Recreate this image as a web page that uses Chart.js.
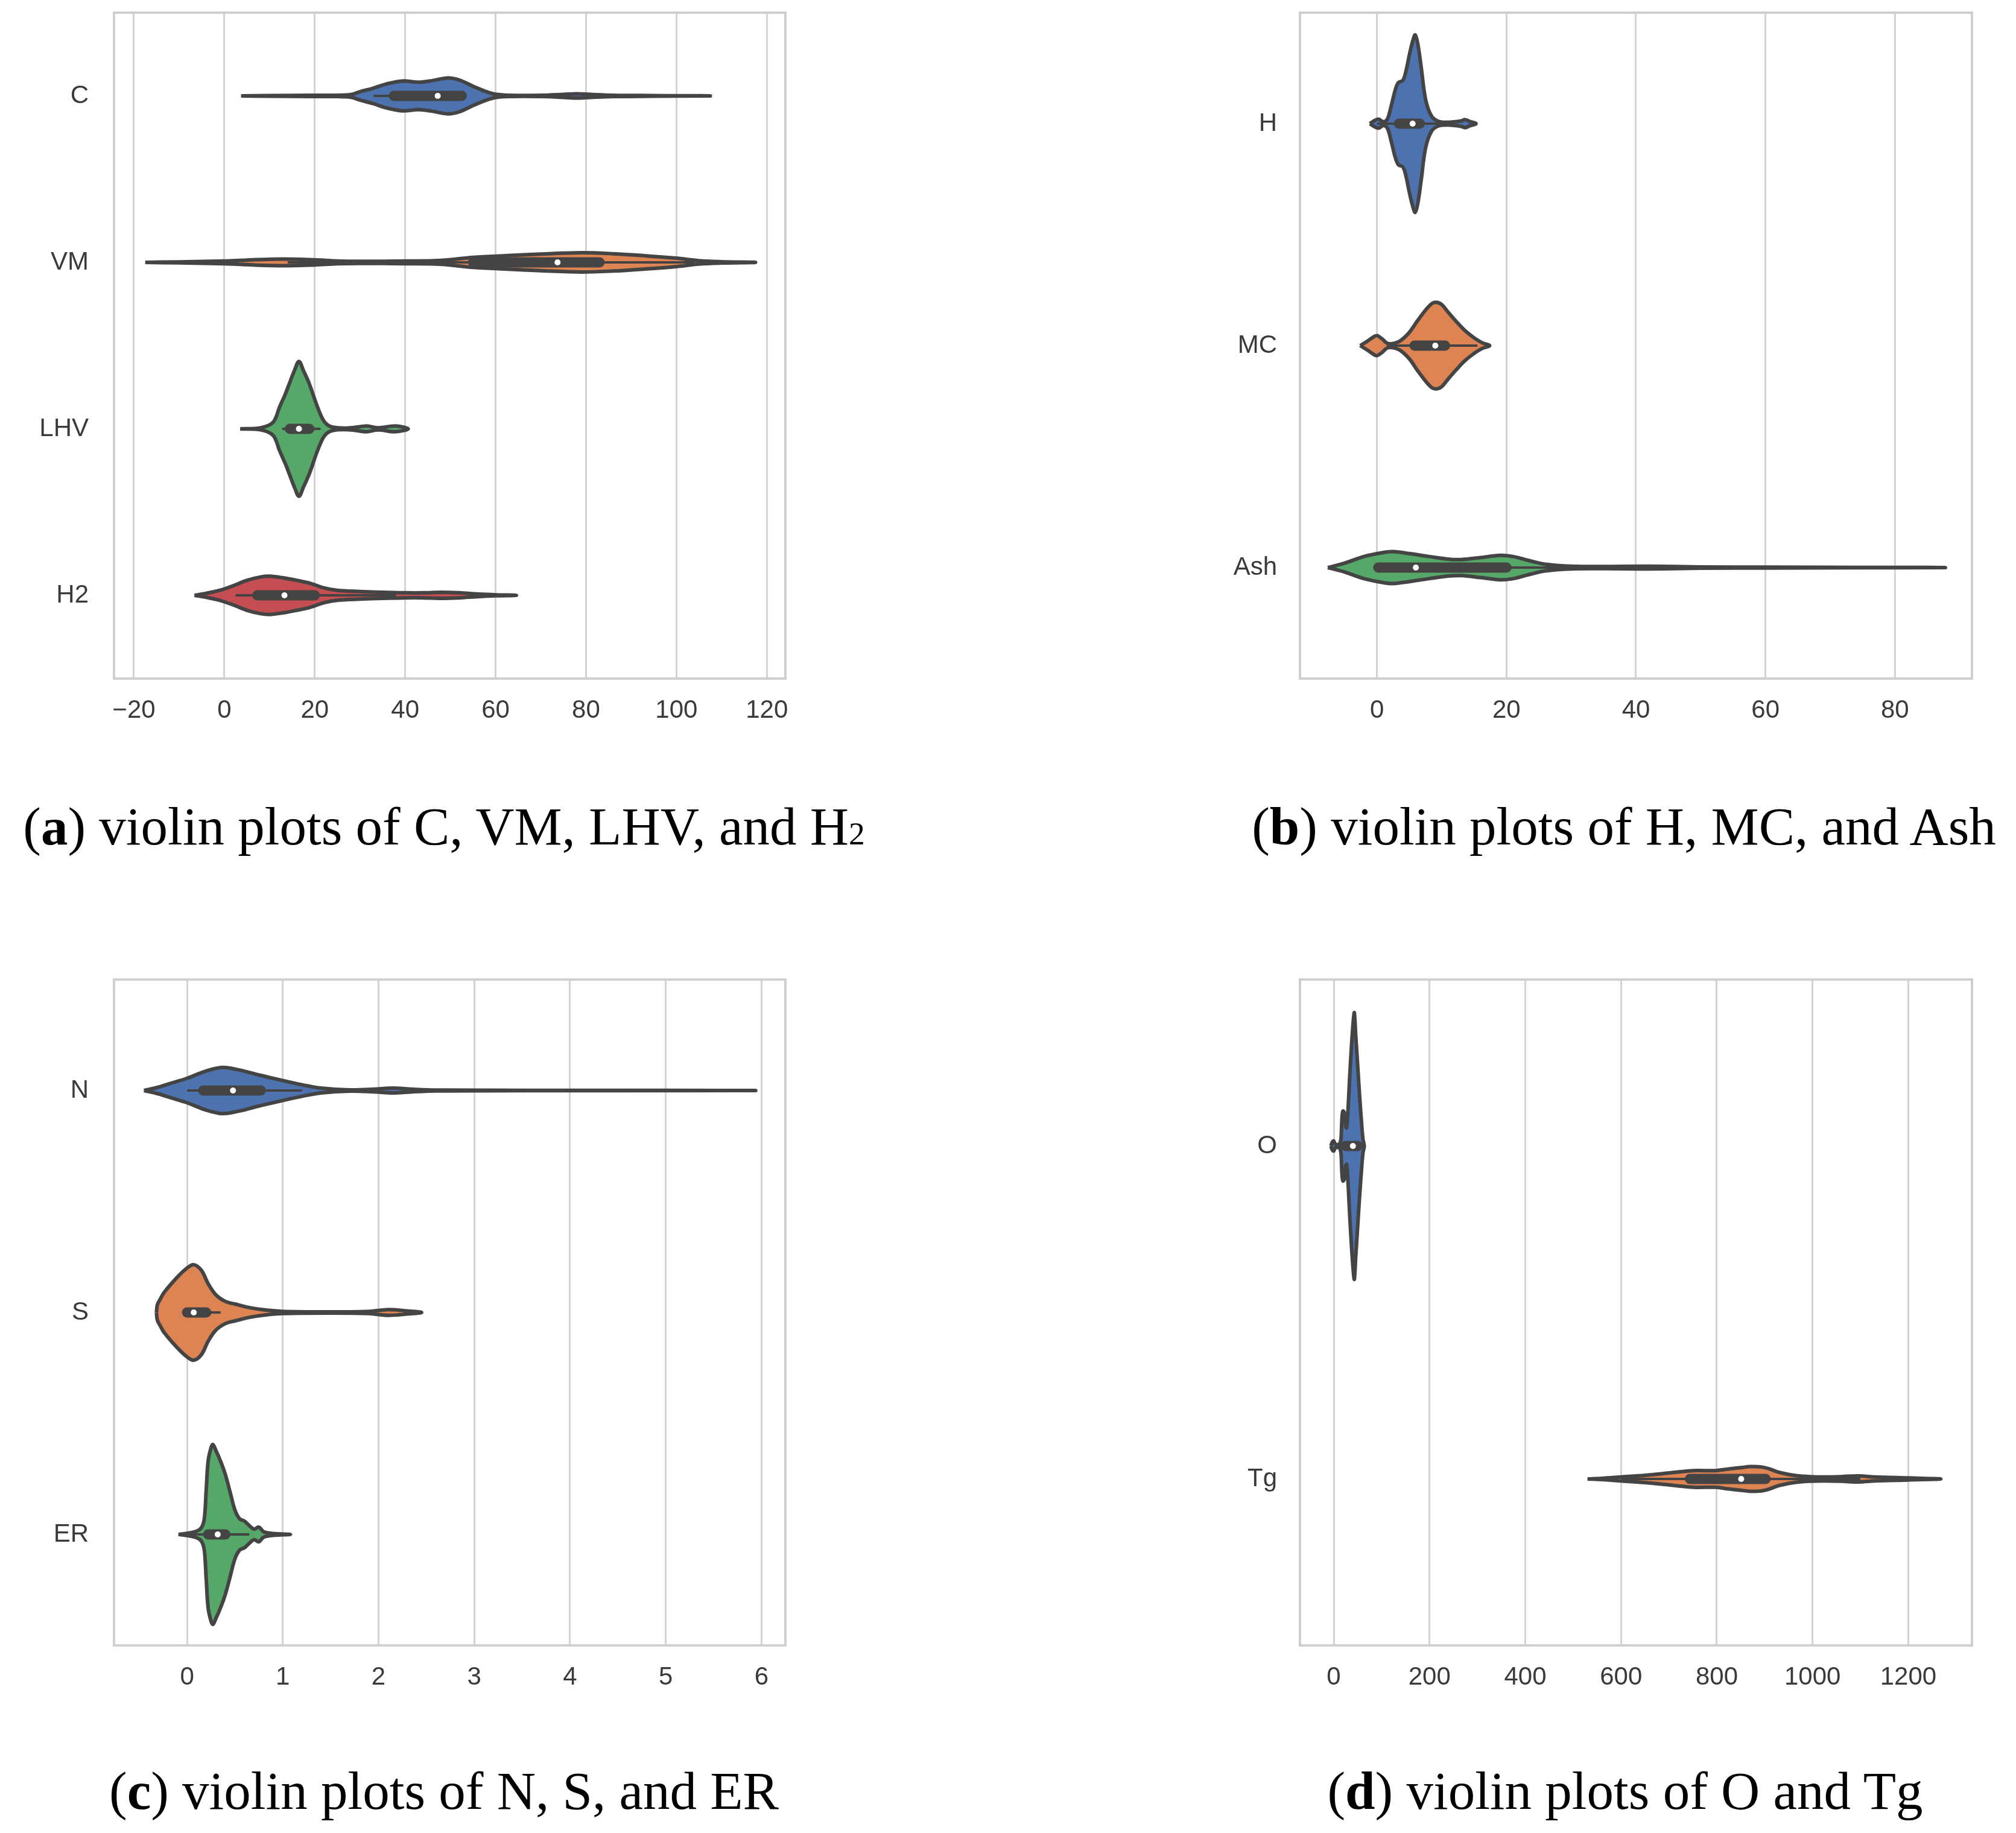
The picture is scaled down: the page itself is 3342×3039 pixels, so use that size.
<!DOCTYPE html>
<html>
<head>
<meta charset="utf-8">
<script src="https://cdn.jsdelivr.net/npm/chart.js@4.4.1/dist/chart.umd.min.js"></script>
<style>
    html, body { margin: 0; padding: 0; background: #fff; }
    body { width: 3342px; height: 3039px; position: relative; overflow: hidden; }
    canvas { position: absolute; }
    .cap {
        position: absolute;
        white-space: nowrap;
        font-family: "Liberation Serif", "DejaVu Serif", serif;
        font-size: 89px;
        color: #000;
        line-height: 1;
        transform: translate(-50%, -50%);
    }
    .cap .sub { font-size: 0.6em; }
</style>
</head>
<body>
<canvas id="chartA" width="1400" height="1240" style="left:0px;top:0px"></canvas>
<canvas id="chartB" width="1442" height="1240" style="left:1900px;top:0px"></canvas>
<canvas id="chartC" width="1400" height="1240" style="left:0px;top:1600px"></canvas>
<canvas id="chartD" width="1442" height="1240" style="left:1900px;top:1600px"></canvas>

<div class="cap" style="left:736px;top:1370px">(<b>a</b>) violin plots of C, VM, LHV, and H<span class="sub">2</span></div>
<div class="cap" style="left:2692px;top:1370px">(<b>b</b>) violin plots of H, MC, and Ash</div>
<div class="cap" style="left:736px;top:2969px">(<b>c</b>) violin plots of N, S, and ER</div>
<div class="cap" style="left:2694px;top:2969px">(<b>d</b>) violin plots of O and Tg</div>

<script>
// ---- (a) C, VM, LHV, H2 ----
const catsA = ["C", "VM", "LHV", "H2"];
const ticksA = [-20, 0, 20, 40, 60, 80, 100, 120];
const C_at = [3.7, 15, 25, 28, 30, 33, 36, 39.5, 43, 46, 49.5, 52, 55, 58, 60, 63, 70, 75, 78, 81, 86, 95, 107.5];
const C_half = [0, 0.003, 0.004, 0.008, 0.025, 0.047, 0.073, 0.09, 0.082, 0.092, 0.108, 0.095, 0.058, 0.025, 0.01, 0.004, 0.004, 0.009, 0.013, 0.009, 0.004, 0.002, 0];
const VM_at = [-17.5, -10, 0, 5, 13, 20, 25, 30, 40, 48, 55, 62, 70, 79, 86, 93, 100, 105, 110, 117.5];
const VM_half = [0, 0.003, 0.008, 0.014, 0.02, 0.015, 0.008, 0.006, 0.008, 0.012, 0.03, 0.04, 0.05, 0.058, 0.052, 0.04, 0.025, 0.01, 0.004, 0];
const LHV_at = [3.5, 8, 10.8, 12.2, 13.5, 14.5, 15.5, 16.5, 17.5, 18.8, 20.7, 22.2, 24, 28, 31.5, 34, 37.8, 40.7];
const LHV_half = [0, 0.006, 0.04, 0.13, 0.21, 0.28, 0.35, 0.405, 0.35, 0.27, 0.125, 0.04, 0.01, 0.006, 0.017, 0.006, 0.017, 0];
const H2_at = [-6.6, -4, -1, 2, 5, 8, 10, 13, 16, 19, 22, 25, 30, 35, 40, 44, 48, 52, 56, 60, 64.6];
const H2_half = [0, 0.012, 0.03, 0.058, 0.09, 0.11, 0.115, 0.105, 0.09, 0.072, 0.045, 0.03, 0.023, 0.018, 0.015, 0.015, 0.018, 0.015, 0.008, 0.003, 0];
const q1A = [37.5, 55, 14.5, 7.3];
const q3A = [52.5, 83, 18.8, 20];
const medA = [47.2, 73.7, 16.5, 13.3];
const loA = [33, 14, 12.8, 2.5];
const hiA = [53.5, 104, 21.3, 38];

// ---- (b) H, MC, Ash ----
const catsB = ["H", "MC", "Ash"];
const ticksB = [0, 20, 40, 60, 80];
const H_at = [-1.1, -0.3, 0.3, 1, 1.6, 2.2, 2.8, 3.3, 4.0, 4.5, 5.0, 5.5, 5.9, 6.3, 6.8, 7.5, 8.4, 9.5, 11, 13, 13.6, 14.3, 15.3];
const H_half = [0, 0.015, 0.02, 0.008, 0.02, 0.08, 0.15, 0.185, 0.195, 0.24, 0.31, 0.37, 0.40, 0.36, 0.26, 0.11, 0.035, 0.01, 0.006, 0.012, 0.018, 0.01, 0];
const MC_at = [-2.6, -1.5, -0.5, 0, 0.8, 1.6, 2.5, 3.6, 5, 6.2, 7.5, 8.5, 9.2, 10, 11, 12.2, 13.5, 15, 16.3, 17.4];
const MC_half = [0, 0.02, 0.04, 0.045, 0.03, 0.01, 0.01, 0.022, 0.06, 0.11, 0.16, 0.19, 0.195, 0.185, 0.15, 0.11, 0.07, 0.035, 0.012, 0];
const Ash_at = [-7.6, -5, -2, 1, 2.5, 5, 8, 11, 13, 16, 19, 21, 23.4, 26, 30, 35, 42, 50, 60, 75, 87.8];
const Ash_half = [0, 0.02, 0.05, 0.068, 0.072, 0.063, 0.05, 0.038, 0.036, 0.045, 0.055, 0.05, 0.032, 0.015, 0.006, 0.005, 0.006, 0.003, 0.002, 0.001, 0];
const q1B = [3.4, 5.8, 0.2];
const q3B = [6.6, 10.5, 20];
const medB = [5.5, 9, 6];
const loB = [0, 1.5, 0];
const hiB = [10, 15.5, 48];

// ---- (c) N, S, ER ----
const catsC = ["N", "S", "ER"];
const ticksC = [0, 1, 2, 3, 4, 5, 6];
const N_at = [-0.45, -0.3, -0.15, 0, 0.2, 0.37, 0.55, 0.75, 0.95, 1.2, 1.4, 1.7, 1.95, 2.15, 2.35, 2.6, 3.5, 5.94];
const N_half = [0, 0.015, 0.035, 0.055, 0.088, 0.104, 0.092, 0.07, 0.05, 0.026, 0.011, 0.003, 0.006, 0.011, 0.006, 0.002, 0.001, 0];
const S_at = [-0.32, -0.31, -0.28, -0.24, -0.1, 0.0, 0.07, 0.15, 0.22, 0.3, 0.4, 0.5, 0.65, 0.8, 1.0, 1.5, 1.9, 2.1, 2.3, 2.45];
const S_half = [0, 0.035, 0.06, 0.09, 0.16, 0.2, 0.215, 0.19, 0.13, 0.08, 0.05, 0.038, 0.022, 0.012, 0.005, 0.003, 0.005, 0.013, 0.007, 0];
const ER_at = [-0.09, 0.0, 0.1, 0.15, 0.18, 0.2, 0.22, 0.25, 0.27, 0.3, 0.35, 0.4, 0.45, 0.5, 0.55, 0.6, 0.65, 0.7, 0.75, 0.8, 0.9, 1.08];
const ER_half = [0, 0.005, 0.015, 0.03, 0.07, 0.2, 0.33, 0.39, 0.405, 0.38, 0.33, 0.27, 0.19, 0.11, 0.07, 0.06, 0.04, 0.024, 0.033, 0.012, 0.004, 0];
const q1C = [0.17, 0.0, 0.22];
const q3C = [0.77, 0.2, 0.4];
const medC = [0.48, 0.07, 0.32];
const loC = [0, 0, 0];
const hiC = [1.2, 0.35, 0.65];

// ---- (d) O, Tg ----
const catsD = ["O", "Tg"];
const ticksD = [0, 200, 400, 600, 800, 1000, 1200];
const O_at = [-6, -3, 0, 3, 8, 12, 15, 17, 19, 22, 25, 27, 30, 33, 37, 41, 43, 46, 50, 54, 58, 61, 63.7];
const O_half = [0, 0.012, 0.015, 0.006, 0.004, 0.006, 0.02, 0.08, 0.105, 0.1, 0.06, 0.055, 0.115, 0.2, 0.3, 0.38, 0.40, 0.33, 0.24, 0.15, 0.07, 0.02, 0];
const Tg_at = [530, 560, 600, 650, 701, 752, 797, 825, 850, 870, 893, 910, 927, 945, 966, 995, 1023, 1060, 1096, 1130, 1200, 1268];
const Tg_half = [0, 0.002, 0.006, 0.011, 0.018, 0.025, 0.025, 0.03, 0.034, 0.037, 0.036, 0.03, 0.021, 0.015, 0.01, 0.007, 0.006, 0.007, 0.009, 0.006, 0.003, 0];
const q1D = [25, 744];
const q3D = [50, 902];
const medD = [40, 851];
const loD = [3, 600];
const hiD = [62, 1100];

const palette = ["#4C72B0", "#DD8452", "#55A868", "#C44E52"];
const edge = "#444444";
const tickFont = { family: "Liberation Sans", size: 42 };

// light grey frame around each plot area
const framePlugin = {
    id: "frame",
    beforeDatasetsDraw(chart) {
        const ctx = chart.ctx, a = chart.chartArea;
        ctx.save();
        ctx.strokeStyle = "#cfcfcf";
        ctx.lineWidth = 4;
        ctx.strokeRect(a.left, a.top, a.right - a.left, a.bottom - a.top);
        ctx.restore();
    }
};

function violinDatasets(cats, shapes, q1, q3, med, lo, hi) {
    const sets = [];
    cats.forEach((c, i) => {
        const at = shapes[i][0], half = shapes[i][1];
        const pts = [];
        at.forEach((v, k) => pts.push({ x: v, y: i - half[k] }));
        for (let k = at.length - 2; k >= 0; k--) pts.push({ x: at[k], y: i + half[k] });
        sets.push({
            data: pts, showLine: true, fill: "shape",
            backgroundColor: palette[i], borderColor: edge, borderWidth: 6,
            borderJoinStyle: "round", pointRadius: 0, tension: 0.35, order: 3
        });
        sets.push({
            data: [{ x: lo[i], y: i }, { x: hi[i], y: i }], showLine: true,
            borderColor: edge, borderWidth: 4, pointRadius: 0, order: 2
        });
        sets.push({
            data: [{ x: q1[i], y: i }, { x: q3[i], y: i }], showLine: true,
            borderColor: edge, borderWidth: 17, borderCapStyle: "round", pointRadius: 0, order: 1
        });
        sets.push({
            data: [{ x: med[i], y: i }], pointRadius: 5,
            pointBackgroundColor: "#ffffff", pointBorderWidth: 0, order: 0
        });
    });
    return sets;
}

function makeChart(id, cats, datasets, ticks, xMin, xMax, padding, yAxisW, xAxisH, yPad) {
    return new Chart(document.getElementById(id).getContext("2d"), {
        type: "scatter",
        data: { datasets: datasets },
        options: {
            responsive: false,
            animation: false,
            devicePixelRatio: 1,
            layout: { padding: padding },
            plugins: { legend: { display: false }, tooltip: { enabled: false } },
            scales: {
                x: {
                    type: "linear", min: xMin, max: xMax,
                    afterBuildTicks: s => { s.ticks = ticks.map(v => ({ value: v })); },
                    afterFit: s => { s.height = xAxisH; s.paddingLeft = 0; s.paddingRight = 0; },
                    grid: { color: "#d4d4d4", lineWidth: 3, drawTicks: false },
                    border: { display: false },
                    ticks: {
                        padding: 28, color: "#3a3a3a", font: tickFont, maxRotation: 0,
                        callback: v => String(v).replace("-", "\u2212")
                    }
                },
                y: {
                    type: "linear", reverse: true, min: -0.5, max: cats.length - 0.5,
                    afterBuildTicks: s => { s.ticks = cats.map((c, i) => ({ value: i })); },
                    afterFit: s => { s.width = yAxisW; s.paddingTop = 0; s.paddingBottom = 0; },
                    grid: { display: false },
                    border: { display: false },
                    ticks: { padding: yPad, color: "#3a3a3a", font: tickFont, callback: v => cats[v] }
                }
            }
        },
        plugins: [framePlugin]
    });
}

makeChart("chartA", catsA,
    violinDatasets(catsA, [[C_at, C_half], [VM_at, VM_half], [LHV_at, LHV_half], [H2_at, H2_half]], q1A, q3A, medA, loA, hiA),
    ticksA, -24.4, 124.1, { left: 0, top: 21, right: 98, bottom: 0 }, 189, 115, 34);

makeChart("chartB", catsB,
    violinDatasets(catsB, [[H_at, H_half], [MC_at, MC_half], [Ash_at, Ash_half]], q1B, q3B, medB, loB, hiB),
    ticksB, -11.9, 91.9, { left: 0, top: 21, right: 73, bottom: 0 }, 255, 115, 30);

makeChart("chartC", catsC,
    violinDatasets(catsC, [[N_at, N_half], [S_at, S_half], [ER_at, ER_half]], q1C, q3C, medC, loC, hiC),
    ticksC, -0.763, 6.25, { left: 0, top: 24, right: 98, bottom: 0 }, 189, 112, 34);

makeChart("chartD", catsD,
    violinDatasets(catsD, [[O_at, O_half], [Tg_at, Tg_half]], q1D, q3D, medD, loD, hiD),
    ticksD, -70.6, 1333, { left: 0, top: 24, right: 73, bottom: 0 }, 255, 112, 30);
</script>
</body>
</html>
